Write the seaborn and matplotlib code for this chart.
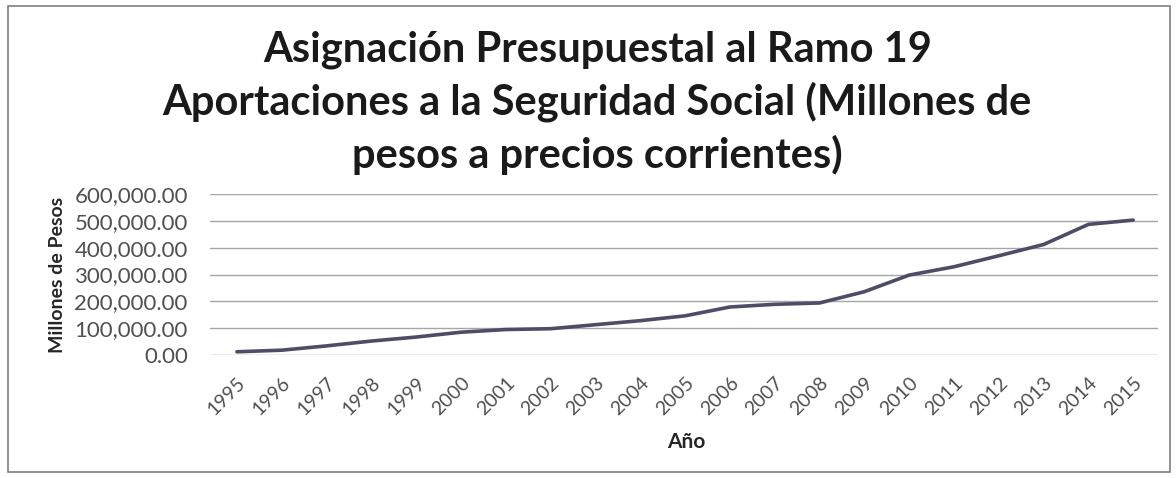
import matplotlib
matplotlib.use("Agg")
import matplotlib.pyplot as plt
import matplotlib.patches as mpatches
from matplotlib.ticker import FuncFormatter
import seaborn as sns
import pandas as pd

# Ramo 19 budget allocation, millions of current pesos
years = [1995, 1996, 1997, 1998, 1999, 2000, 2001, 2002, 2003, 2004, 2005,
         2006, 2007, 2008, 2009, 2010, 2011, 2012, 2013, 2014, 2015]
amounts = [12000, 18000, 34000, 52000, 67000, 85000, 95000, 98000, 113000,
           128000, 146000, 179000, 189000, 194000, 236000, 298000, 329000,
           370000, 412000, 487000, 503000]
yticks = [0, 100000, 200000, 300000, 400000, 500000, 600000]

title = ("Asignación Presupuestal al Ramo 19\n"
         "Aportaciones a la Seguridad Social (Millones de\n"
         "pesos a precios corrientes)")

sns.set_theme(style="white")
plt.rcParams["font.family"] = ["Lato", "DejaVu Sans"]

df = pd.DataFrame({"idx": range(len(years)), "Millones": amounts})

fig = plt.figure(figsize=(11.76, 4.78), dpi=100)
ax = fig.add_axes([0.1786, 0.2573, 0.806, 0.3367])

sns.lineplot(data=df, x="idx", y="Millones", ax=ax, color="#4d4d68",
             linewidth=2.6)

ax.set_ylim(0, 600000)
ax.set_yticks(yticks)
ax.yaxis.set_major_formatter(FuncFormatter(lambda v, p: f"{v:,.2f}"))
ax.set_xlim(-0.6, len(years) - 0.45)
ax.set_xticks(range(len(years)))
ax.set_xticklabels([str(y) for y in years], rotation=45, ha="right",
                   rotation_mode="anchor")
ax.grid(axis="y", color="#a6a6a6", linewidth=1.0)
ax.grid(axis="x", visible=False)
for s in ax.spines.values():
    s.set_visible(False)
ax.tick_params(axis="y", labelsize=16, labelcolor="#505050", pad=16, length=0)
ax.tick_params(axis="x", labelsize=14, labelcolor="#505050", pad=14, length=0)

ax.set_ylabel("Millones de Pesos", fontsize=14, fontweight="bold",
              color="#262626")
ax.yaxis.set_label_coords(-0.152, 0.5)
ax.set_xlabel("Año", fontsize=15, fontweight="bold", color="#262626")
ax.xaxis.set_label_coords(0.502, -0.54)
ax.xaxis.label.set_va("center")

fig.text(0.508, 0.937, title, ha="center", va="top", fontsize=30,
         fontweight="bold", color="#1a1a1a", linespacing=1.39)

# chart frame
frame = mpatches.Rectangle((8 / 1176, 6 / 478), 1162 / 1176, 466 / 478,
                           transform=fig.transFigure, fill=False,
                           edgecolor="#7f7f7f", linewidth=1.2)
fig.patches.append(frame)

fig.savefig("out.png", dpi=100)
